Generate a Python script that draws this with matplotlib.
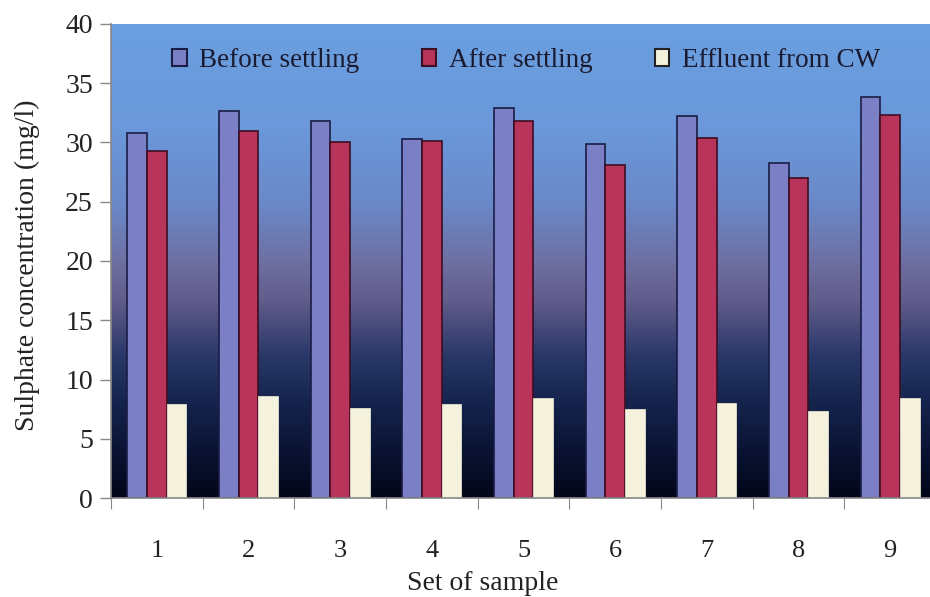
import numpy as np
import matplotlib
matplotlib.use("Agg")
import matplotlib.pyplot as plt
from matplotlib.colors import LinearSegmentedColormap
from matplotlib.patches import Patch

plt.rcParams['font.family'] = ['Liberation Serif', 'DejaVu Serif']

samples = ['1', '2', '3', '4', '5', '6', '7', '8', '9']
before_settling = [30.8, 32.7, 31.8, 30.3, 32.9, 29.9, 32.2, 28.3, 33.8]
after_settling = [29.3, 31.0, 30.0, 30.1, 31.8, 28.1, 30.4, 27.0, 32.3]
effluent_cw = [7.9, 8.6, 7.6, 7.9, 8.4, 7.5, 8.0, 7.3, 8.4]
series_names = ['Before settling', 'After settling', 'Effluent from CW']

fig = plt.figure(figsize=(9.3, 5.97), dpi=100)
ax = fig.add_axes([111/930, 1-498/597, 825/930, 474/597])

# gradient background
stops = [(0.0, '#03071a'), (0.10, '#0a1333'), (0.20, '#15244d'),
         (0.30, '#2a3868'), (0.42, '#625d8c'), (0.50, '#6e70a2'),
         (0.62, '#6a88c8'), (0.78, '#6a98da'), (1.0, '#6b9fe0')]
cmap = LinearSegmentedColormap.from_list('bg', stops)
grad = np.linspace(0, 1, 256).reshape(-1, 1)
ax.imshow(grad, aspect='auto', cmap=cmap, origin='lower',
          extent=[0, 1, 0, 1], transform=ax.transAxes, zorder=0)

x = np.arange(1, len(samples) + 1)
w = 0.215
ax.bar(x - w, before_settling, w, color='#7b80c6', edgecolor='#1a1c45',
       linewidth=1.2, zorder=2, label=series_names[0])
ax.bar(x, after_settling, w, color='#b8345a', edgecolor='#3e0e22',
       linewidth=1.2, zorder=2, label=series_names[1])
ax.bar(x + w, effluent_cw, w, color='#f4f2dc', edgecolor='#f4f2dc',
       linewidth=0.5, zorder=2, label=series_names[2])

ax.set_xlim(0.5, 9.5)
ax.set_ylim(0, 40)
ax.set_yticks(np.arange(0, 41, 5))
ax.tick_params(axis='y', direction='out', length=8, width=1, color='#888888',
               labelsize=20, pad=5, labelcolor='#222222')

ax.set_xticks(np.arange(0.5, 9.6, 1.0))
ax.set_xticklabels([])
ax.tick_params(axis='x', which='major', direction='out', length=8,
               color='#888888')
ax.set_xticks(x, minor=True)
ax.set_xticklabels(samples, minor=True)
ax.tick_params(axis='x', which='minor', length=0, labelsize=19, pad=30,
               labelcolor='#222222')

for s in ['top', 'right']:
    ax.spines[s].set_visible(False)
for s in ['left', 'bottom']:
    ax.spines[s].set_color('#888888')
    ax.spines[s].set_linewidth(1.2)

ax.set_ylabel('Sulphate concentration (mg/l)', fontsize=20, color='#222222')
ax.yaxis.set_label_coords(-71/825, 0.49)
ax.set_xlabel('Set of sample', fontsize=20, color='#222222')
ax.xaxis.set_label_coords(0.451, -0.153)

handles = [Patch(facecolor='#7b80c6', edgecolor='#1a1c45', linewidth=1.5),
           Patch(facecolor='#b8345a', edgecolor='#3e0e22', linewidth=1.5),
           Patch(facecolor='#f4f2dc', edgecolor='#222222', linewidth=1.5)]
ax.legend(handles, series_names, ncol=3, frameon=False, fontsize=19.5,
          loc='upper center', bbox_to_anchor=(0.503, 1.0),
          handlelength=0.55, handleheight=0.6, handletextpad=0.45,
          columnspacing=2.3, labelcolor='#1a1a30')

fig.savefig('out.png', dpi=100)
